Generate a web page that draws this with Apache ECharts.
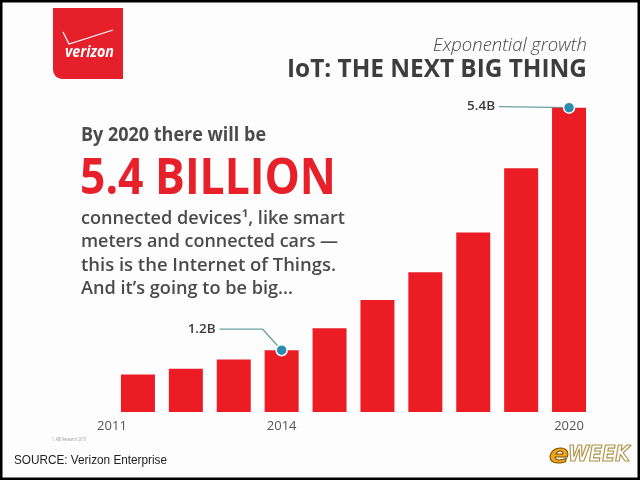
<!DOCTYPE html>
<html lang="en">
<head>
    <meta charset="UTF-8">
    <title>IoT: The Next Big Thing</title>
    <script src="https://cdn.jsdelivr.net/npm/echarts@6/dist/echarts.min.js"></script>
</head>
<style>
    *{
        margin: 0;
        padding: 0;
    }
    html,body{
        width: 100%;
        height: 100%;
        overflow: hidden;
        background: #000;
    }
    .container{
        width: 640px;
        height: 480px;
    }
</style>
<body>
<div class="container"></div>
<script>
    // connected devices, billions
    let years = ['2011', '2012', '2013', '2014', '2015', '2016', '2017', '2018', '2019', '2020'];
    let devices = [0.78, 0.88, 1.04, 1.2, 1.58, 2.07, 2.55, 3.24, 4.35, 5.4];
    let shownYears = ['2011', '2014', '2020'];
    let calloutYears = ['2014', '2020'];

    let container = document.querySelector('.container');
    let mycharts = echarts.init(container);

    const RED = '#ec1c24';
    const GREY = '#4b4b4b';
    const TEAL = '#6c9fa3';

    // squeeze a text into the width it has in the picture
    let mctx = document.createElement('canvas').getContext('2d');
    function fit(text, font, width) {
        mctx.font = font;
        return width / mctx.measureText(text).width;
    }
    function txt(text, x, y, font, color, width, align) {
        return {
            type: 'text', x: x, y: y, z: 10,
            scaleX: fit(text, font, width),
            style: {text: text, font: font, fill: color, textAlign: align || 'left', textVerticalAlign: 'middle'}
        };
    }

    let option = {
        backgroundColor: '#fdfdfd',
        animation: false,
        grid: {left: 114, right: 47, top: 73, bottom: 68},
        xAxis: {
            type: 'category',
            data: years.map(y => ({value: y, textStyle: y === '2011' ? {padding: [0, 52, 0, 0]} : {}})),
            axisLine: {show: false},
            axisTick: {show: false},
            axisLabel: {
                interval: 0,
                margin: 8,
                color: '#555',
                fontSize: 13,
                fontFamily: 'Open Sans',
                formatter: v => shownYears.includes(v) ? v : ''
            }
        },
        yAxis: {type: 'value', min: 0.13, max: 6, show: false},
        series: [
            {
                type: 'bar',
                data: devices,
                barWidth: 34,
                itemStyle: {color: RED}
            },
            {
                type: 'scatter',
                data: devices.map((v, i) => calloutYears.includes(years[i]) ? v : '-'),
                symbolSize: 11,
                z: 5,
                itemStyle: {color: '#2a8db0', borderColor: '#fff', borderWidth: 1.5, opacity: 1}
            }
        ]
    };
    mycharts.setOption(option);

    let eFont = 'italic 900 26px "DejaVu Sans"';
    let wFont = 'italic bold 22px "DejaVu Sans Condensed"';

    let g = [
        // logo
        {type: 'rect', z: 10, shape: {x: 53, y: 8, width: 70, height: 71, r: [0, 0, 0, 9]}, style: {fill: '#e5202b'}},
        {type: 'polyline', z: 11, shape: {points: [[63, 32], [69, 44], [113, 30]]}, style: {stroke: '#fff', lineWidth: 1.2, fill: null}},
        txt('verizon', 65, 52, 'italic bold 16px "Open Sans"', '#fff', 49),

        // titles
        txt('Exponential growth', 587, 46, 'italic 300 18px "Open Sans"', '#444', 154, 'right'),
        txt('IoT: THE NEXT BIG THING', 587, 70, 'bold 25px "Open Sans"', '#3d3d3d', 300, 'right'),

        // left copy
        txt('By 2020 there will be', 81, 135, 'bold 20px "Open Sans"', GREY, 185),
        txt('5.4 BILLION', 80, 179, 'bold 51px "Open Sans"', '#e8202a', 256),
        txt('connected devices\u00b9, like smart', 81, 219, '600 18px "Open Sans"', GREY, 264),
        txt('meters and connected cars \u2014', 81, 242, '600 18px "Open Sans"', GREY, 257),
        txt('this is the Internet of Things.', 81, 266, '600 18px "Open Sans"', GREY, 255),
        txt('And it\u2019s going to be big...', 81, 289, '600 18px "Open Sans"', GREY, 212),

        // footer
        txt('1. ABI Research 2015', 52, 440, '5px "Open Sans"', '#999', 34),
        txt('SOURCE: Verizon Enterprise', 14, 460, '13px "Liberation Sans"', '#222', 153),
        txt('e', 549, 456, eFont, '#f1a61a', 20),
        txt('WEEK', 568, 455, wFont, '#fbfbfb', 62),
        {type: 'text', x: 549, y: 456, z: 11, scaleX: fit('e', eFont, 20),
            style: {text: 'e', font: eFont, fill: null, stroke: '#7b5208', lineWidth: 1, textVerticalAlign: 'middle'}},
        {type: 'text', x: 568, y: 455, z: 11, scaleX: fit('WEEK', wFont, 62),
            style: {text: 'WEEK', font: wFont, fill: null, stroke: '#b0964c', lineWidth: 1.2, textVerticalAlign: 'middle'}},

        // frame
        {type: 'rect', z: 20, shape: {x: 0, y: 0, width: 640, height: 480}, style: {fill: null, stroke: '#000', lineWidth: 5}}
    ];

    // leader lines and labels for the marked bars
    let leaders = {
        '2014': {elbow: [-19, -21], end: [-62, -21]},
        '2020': {elbow: null, end: [-70, -1]}
    };
    calloutYears.forEach(y => {
        let i = years.indexOf(y);
        let p = mycharts.convertToPixel({gridIndex: 0}, [y, devices[i]]);
        let l = leaders[y];
        let pts = [p];
        if (l.elbow) pts.push([p[0] + l.elbow[0], p[1] + l.elbow[1]]);
        let end = [p[0] + l.end[0], p[1] + l.end[1]];
        pts.push(end);
        g.push({type: 'polyline', z: 1, shape: {points: pts}, style: {stroke: TEAL, lineWidth: 1.3, fill: null}});
        g.push(txt(devices[i].toFixed(1) + 'B', end[0] - 4, end[1], '600 13px "Open Sans"', '#3d3d3d', 28, 'right'));
    });

    mycharts.setOption({graphic: g});
</script>

</body>
</html>
